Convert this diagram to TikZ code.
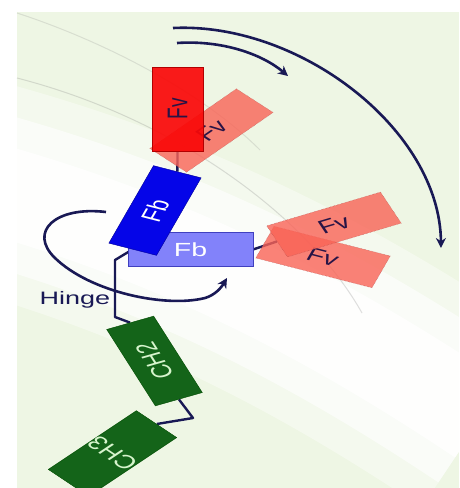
\documentclass[tikz,border=0pt]{standalone}
\usepackage{fontspec}
\setmainfont{Liberation Sans}
\usetikzlibrary{arrows.meta,backgrounds}

\definecolor{navyline}{RGB}{25,25,85}
\definecolor{paleGreen}{RGB}{238,246,228}
\definecolor{redFv}{RGB}{250,8,8}
\definecolor{pinkFv}{RGB}{249,99,86}
\definecolor{darkFb}{RGB}{5,5,232}
\definecolor{lightFb}{RGB}{130,130,250}
\definecolor{greenCh}{RGB}{20,100,25}
\definecolor{textCh}{RGB}{215,245,205}
\definecolor{textFv}{RGB}{40,20,70}

\begin{document}
\begin{tikzpicture}[x=1pt, y=-1pt,
  dombox/.style={xscale=1.5, inner sep=0pt, minimum width=83pt, minimum height=34pt,
    font=\fontsize{19}{19}\selectfont},
  fvsolid/.style={dombox, fill=redFv, draw=red!70!black, text=textFv},
  fvghost/.style={dombox, fill=pinkFv, fill opacity=.8, text opacity=1,
    draw=red!40!gray, densely dotted, text=textFv},
  fbbox/.style={dombox, fill=darkFb, draw=blue!60!black, text=white},
  fbflatbox/.style={dombox, fill=lightFb, draw=blue!50!gray, text=white},
  chbox/.style={dombox, fill=greenCh, draw=green!30!black, text=textCh},
  link/.style={navyline, line width=2.4pt, line join=round},
  turn/.style={navyline, line width=2.6pt, -{Stealth[length=10pt,width=10pt]}},
  hingelabel/.style={xscale=1.5, text=navyline, font=\fontsize{18}{18}\selectfont}]

\useasboundingbox (0,0) rectangle (459,488);

% Fv / Fb arms
\node[fvghost, rotate=46] (fvtilt) at (211.5,130.5) {Fv};
\node[fvsolid, rotate=90, minimum width=84pt, fill opacity=.92, text opacity=1] (fvup) at (177.5,109) {Fv};
\node[fbflatbox] (fbflat) at (190.5,249.5) {Fb};
\node[fbbox, rotate=69] (fbturn) at (155,210.5) {Fb};
\node[fvghost, rotate=-21] (fvlow) at (323,257) {Fv};
\node[fvghost, rotate=24] (fvhigh) at (334,224.5) {Fv};

% constant part
\node[chbox, rotate=113] (chtwo) at (154.5,361) {CH2};
\node[chbox, rotate=135, minimum width=34pt, minimum height=83pt] (chthree) at (112.5,453.5) {CH3};

\node[hingelabel] (hinge) at (75,300) {Hinge};

\coordinate (hingetop) at (115,260);
\coordinate (hingebot) at (115,317);
\coordinate (chbend) at (193,418);

% swing arrows
\coordinate (swingA) at (177,43);
\coordinate (swingB) at (288,76);
\coordinate (swingC) at (173,28);
\coordinate (swingD) at (441,248);
\coordinate (loopA) at (106,212);
\coordinate (loopB) at (227,278);

\draw[turn] (swingA) .. controls (222,40) and (262,54) .. (swingB);
\draw[turn] (swingC) .. controls (300,22) and (440,130) .. (swingD);
\draw[turn] (loopA) .. controls (55,206) and (28,232) .. (55,258)
  .. controls (90,292) and (165,308) .. (205,298)
  .. controls (215,295) and (221,288) .. (loopB);

\begin{scope}[on background layer]
\clip (0,0) rectangle (459,488);
\fill[white] (0,0) rectangle (459,488);
\fill[paleGreen] (17,12) rectangle (459,488);
\draw[white, line width=210pt, opacity=.4] (-20,185) .. controls (180,240) and (330,320) .. (480,420);
\draw[white, line width=150pt, opacity=.6] (-20,185) .. controls (180,240) and (330,320) .. (480,420);
\draw[white, line width=90pt, opacity=.8] (-20,185) .. controls (180,240) and (330,320) .. (480,420);
\draw[gray, opacity=.25, line width=1pt] (17,78) .. controls (180,120) and (310,220) .. (362,313);
\draw[gray, opacity=.2, line width=1pt] (17,13) .. controls (100,40) and (200,90) .. (260,150);

\draw[link] (fvup.west) -- (fbturn.east);
\draw[link] (fbflat.east) -- (fvhigh.west);
\draw[link] (fbturn.west) -- (hingetop) -- (hingebot) -- (chtwo.east);
\draw[link] (chtwo.west) -- (chbend) -- (chthree.south);
\end{scope}

\end{tikzpicture}
\end{document}
